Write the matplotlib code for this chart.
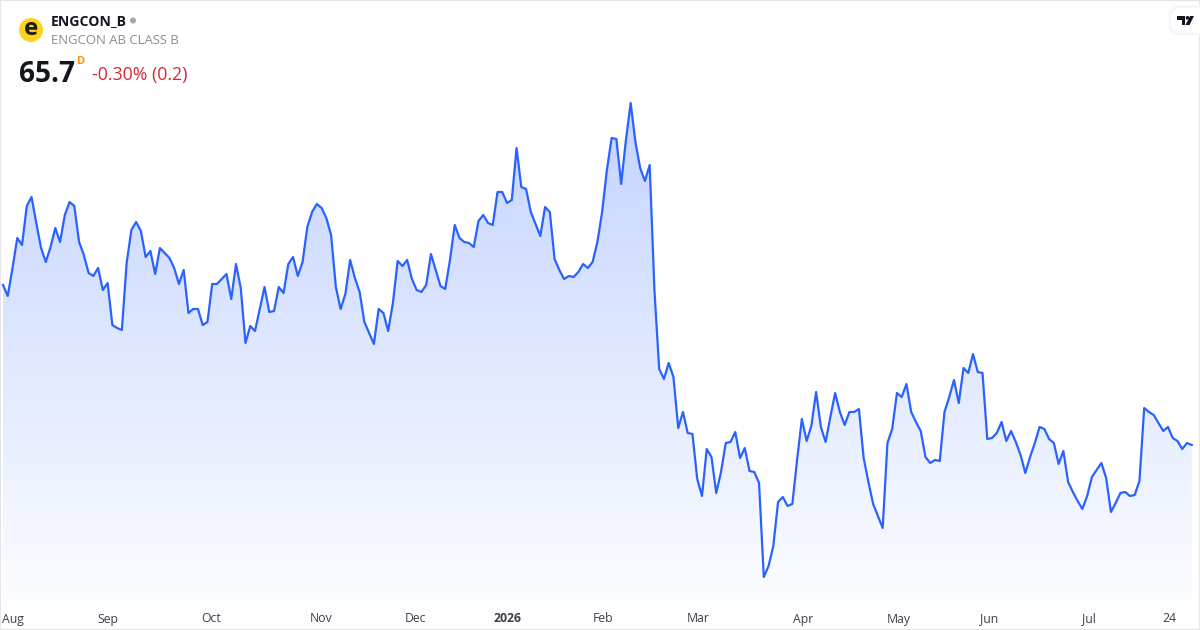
import numpy as np
from matplotlib import pyplot as plt
from matplotlib.patches import Ellipse, FancyBboxPatch, Polygon

plt.rcParams["font.family"] = ["Open Sans", "DejaVu Sans"]

# daily closes
prices = [
    81.7, 80.6, 83.4, 86.4, 85.7, 89.6, 90.5, 87.9, 85.4, 84.0, 85.5, 87.4, 86.0, 88.7, 90.0, 89.6,
    86.0, 84.7, 82.9, 82.6, 83.4, 81.2, 81.9, 77.7, 77.4, 77.2, 83.9, 87.2, 88.0, 87.1, 84.5, 85.1,
    82.8, 85.4, 84.9, 84.4, 83.4, 81.8, 83.2, 78.9, 79.3, 79.3, 77.7, 78.0, 81.8, 81.8, 82.3, 82.8,
    80.3, 83.8, 81.4, 75.9, 77.6, 77.1, 79.3, 81.5, 79.0, 79.1, 81.5, 80.9, 83.8, 84.5, 82.6,
    84.0, 87.5, 89.0, 89.8, 89.4, 88.4, 86.7, 81.5, 79.3, 80.8, 84.2, 82.4, 81.0, 78.0, 76.9, 75.8,
    79.3, 78.9, 77.1, 79.9, 84.1, 83.6, 84.2, 82.3, 81.2, 81.0, 81.7, 84.8, 83.2, 81.6, 81.3, 84.2,
    87.7, 86.4, 86.0, 85.9, 85.5, 88.1, 88.7, 87.9, 87.7, 91.0, 91.0, 89.9, 90.2,
    95.4, 91.5, 91.3, 89.0, 87.8, 86.6, 89.5, 89.0, 84.3, 83.2, 82.3, 82.6, 82.5, 83.0, 83.8, 83.4,
    84.0, 86.0, 89.0, 93.2, 96.4, 96.3, 91.8, 96.2, 99.9, 96.0, 93.4, 92.1, 93.7, 81.2,
    73.3, 72.3, 73.9, 72.5, 67.4, 69.0, 66.9, 66.8, 62.3, 60.6, 65.3, 64.5, 60.9, 63.0, 65.9, 66.0,
    67.0, 64.4, 65.4, 63.1, 63.0, 61.9, 52.5, 53.6, 55.6, 60.0, 60.5, 59.6, 59.8, 64.2, 68.3, 66.1,
    67.6, 71.0, 67.5, 66.0, 68.5, 70.9, 69.0, 67.7, 69.0, 69.0, 69.3, 64.4, 62.0, 59.8, 58.6, 57.4,
    65.9, 67.3, 70.9, 70.5, 71.8, 69.0, 68.0, 67.1,
    64.5, 63.9, 64.2, 64.1, 69.0, 70.5, 72.2, 69.9, 73.4, 72.9, 74.8, 73.0, 72.9, 66.3, 66.4, 66.9,
    68.0, 66.1, 67.1, 66.0, 64.7, 62.9, 64.5, 65.9, 67.5, 67.3, 66.3, 65.9, 63.8, 65.1, 62.0, 61.0,
    60.1, 59.3, 60.6, 62.5, 63.2, 63.9, 62.4, 59.0, 59.9, 60.9, 61.0, 60.6, 60.7, 62.1, 69.4, 69.0,
    68.7, 67.9, 67.1, 67.5, 66.4, 66.1, 65.3, 65.9, 65.7,
]
tick_bars = [2, 22, 43.8, 67, 86.8, 106.2, 126.2, 146.2, 168.2, 188.4, 207.4, 228.4, 245.2]
tick_labels = ["Aug", "Sep", "Oct", "Nov", "Dec", "2026", "Feb", "Mar", "Apr", "May", "Jun", "Jul", "24"]

BLUE = "#2962ff"
WIDTH, HEIGHT = 1200, 630
BAR_PX = 4.755
PRICE_TOP, PRICE_BOTTOM = 110.2, 47.2


def px(x, y):
    # pixel position in the picture -> figure fraction
    return x / WIDTH, 1 - y / HEIGHT


def dot(x, y, size, color):
    fig.add_artist(
        Ellipse(px(x, y), size / WIDTH, size / HEIGHT, transform=fig.transFigure, facecolor=color, edgecolor="none")
    )


fig = plt.figure(figsize=(12, 6.3), dpi=100, facecolor="white")
ax = fig.add_axes([0, 0, 1, 1])
bars = np.arange(len(prices))
xlim = (-3 / BAR_PX, (WIDTH - 3) / BAR_PX)

# area under the line: vertical fade clipped to the price outline
shade = np.zeros((256, 1, 4))
shade[..., :3] = (41 / 255, 98 / 255, 1.0)
shade[:, 0, 3] = np.linspace(0.28, 0.0, 256)
outline = Polygon(
    list(zip(bars, prices)) + [(bars[-1], PRICE_BOTTOM), (bars[0], PRICE_BOTTOM)],
    closed=True,
    facecolor="none",
    edgecolor="none",
)
ax.add_patch(outline)
im = ax.imshow(shade, extent=(xlim[0], xlim[1], PRICE_BOTTOM, 100.0), aspect="auto", zorder=1)
im.set_clip_path(outline)

ax.plot(bars, prices, color=BLUE, linewidth=1.6, solid_joinstyle="round", zorder=2)

ax.set_xlim(*xlim)
ax.set_ylim(PRICE_BOTTOM, PRICE_TOP)
ax.set_yticks([])
ax.set_xticks(tick_bars, tick_labels)
ax.tick_params(axis="x", length=0, pad=-12.6, labelsize=8.8, labelcolor="#3c404b")
ax.get_xticklabels()[5].set_fontweight("bold")
for spine in ax.spines.values():
    spine.set_color("#e3e5ea")
    spine.set_linewidth(1.5)

# header block
dot(31, 30, 24, "#fdd31d")
fig.text(*px(31, 29), "e", fontsize=17.5, fontweight="bold", color="#231f10", ha="center", va="center")
fig.text(*px(51, 21), "ENGCON_B", fontsize=10.1, fontweight="bold", color="#131722", va="center")
dot(133, 20.5, 6, "#a3a6af")
fig.text(*px(51, 40.5), "ENGCON AB CLASS B", fontsize=9.45, color="#8a8d96", va="center")
fig.text(*px(19, 74), "65.7", fontsize=20.2, fontweight="bold", color="#131722", va="center")
fig.text(*px(77, 61), "D", fontsize=8, fontweight="bold", color="#ff9800", va="center")
fig.text(*px(92, 75), "-0.30% (0.2)", fontsize=12.8, color="#d62839", va="center")

# TradingView badge in the top right corner, soft shadow then white pill
for grow, tint in ((3, "#fafafb"), (1.5, "#f4f5f7"), (0, "white")):
    fig.add_artist(
        FancyBboxPatch(
            px(1171 - grow, 33 + grow),
            60 / WIDTH,
            (25 + 2 * grow) / HEIGHT,
            boxstyle="round,pad=0,rounding_size=0.009",
            transform=fig.transFigure,
            facecolor=tint,
            edgecolor="none",
            mutation_aspect=WIDTH / HEIGHT,
        )
    )
tv_shapes = [
    [(1177, 16), (1185, 16), (1185, 25), (1181.5, 25), (1181.5, 20), (1177, 20)],
    [(1194, 16), (1189.5, 25), (1185.5, 25), (1190, 16)],
]
for shape in tv_shapes:
    fig.add_artist(Polygon([px(*p) for p in shape], transform=fig.transFigure, facecolor="#131722", edgecolor="none"))
dot(1187.5, 17.8, 3.6, "#131722")

fig.savefig("out.png", dpi=100)
plt.close(fig)
